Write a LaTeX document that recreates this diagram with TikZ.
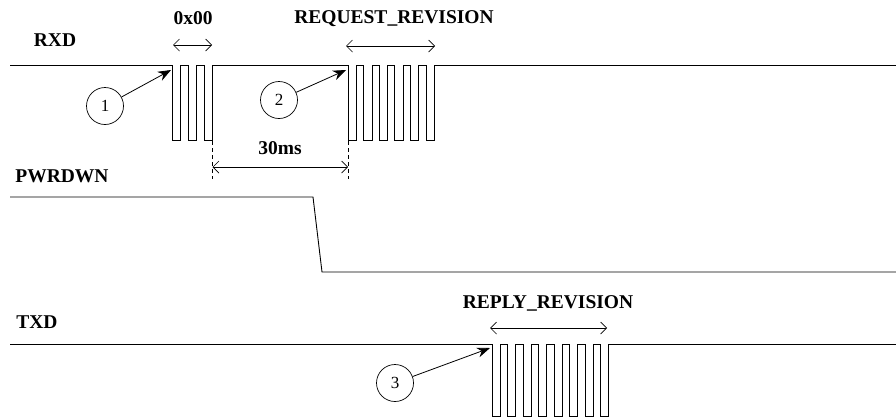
\documentclass[tikz,border=0pt]{standalone}
\usepackage{fontspec}
\setmainfont{Liberation Serif}
\usetikzlibrary{arrows.meta}
\begin{document}
\begin{tikzpicture}[x=1pt,y=-1pt,
  sig/.style={line width=0.9pt,line join=miter},
  lbl/.style={font=\fontsize{19.5}{21}\selectfont\bfseries,inner sep=0pt},
  span/.style={line width=0.7pt,{Straight Barb[length=6pt,width=12pt]}-{Straight Barb[length=6pt,width=12pt]}},
  guide/.style={line width=0.8pt,dashed,dash pattern=on 4pt off 3pt},
  numc/.style={circle,draw,line width=0.7pt,minimum size=37pt,inner sep=0pt,font=\fontsize{17}{19}\selectfont},
  pointer/.style={line width=0.8pt,-{Stealth[length=13pt,width=10pt]}}]
\useasboundingbox (0,0) rectangle (896,418);
% signals
\draw[sig] (10,65) foreach \i in {0,1,2} { -- ({172+16*\i},65) -- ++(0,75) -- ++(8.5,0) -- ++(0,-75) }
  foreach \i in {0,...,5} { -- ({348+15.6*\i},65) -- ++(0,75) -- ++(8.5,0) -- ++(0,-75) } -- (896,65);
\draw[sig] (10,197) -- (313,197) -- (322,272) -- (896,272);
\draw[sig] (10,344) foreach \i in {0,...,7} { -- ({492+15.5*\i},344) -- ++(0,72) -- ++(8,0) -- ++(0,-72) } -- (896,344);
% labels
\node[lbl] (rxd) at (55,40) {RXD};
\node[lbl] (pwr) at (62,176) {PWRDWN};
\node[lbl] (txd) at (37,322) {TXD};
\node[lbl] (l0) at (193,18) {0x00};
\node[lbl] (lreq) at (394,19) {REQUEST\_REVISION};
\node[lbl] (l30) at (280,148) {30ms};
\node[lbl] (lrep) at (548,303) {REPLY\_REVISION};
% spans
\coordinate (a0l) at (173,45); \coordinate (a0r) at (212,45);
\draw[span] (a0l) -- (a0r);
\coordinate (a1l) at (346,46); \coordinate (a1r) at (435,46);
\draw[span] (a1l) -- (a1r);
\coordinate (a2l) at (490,328); \coordinate (a2r) at (607,328);
\draw[span] (a2l) -- (a2r);
\coordinate (d1t) at (212.5,141); \coordinate (d1b) at (212.5,179);
\coordinate (d2t) at (348,141); \coordinate (d2b) at (348,179);
\draw[guide] (d1t) -- (d1b);
\draw[guide] (d2t) -- (d2b);
\coordinate (m1) at (212.5,167); \coordinate (m2) at (348,167);
\draw[span] (m1) -- (m2);
% numbered circles
\node[numc] (c1) at (105,106) {1};
\node[numc] (c2) at (279,100) {2};
\node[numc] (c3) at (395,383) {3};
\coordinate (p1) at (171,70);
\coordinate (p2) at (346,70);
\coordinate (p3) at (490,348);
\draw[pointer] (c1) -- (p1);
\draw[pointer] (c2) -- (p2);
\draw[pointer] (c3) -- (p3);
\end{tikzpicture}
\end{document}
